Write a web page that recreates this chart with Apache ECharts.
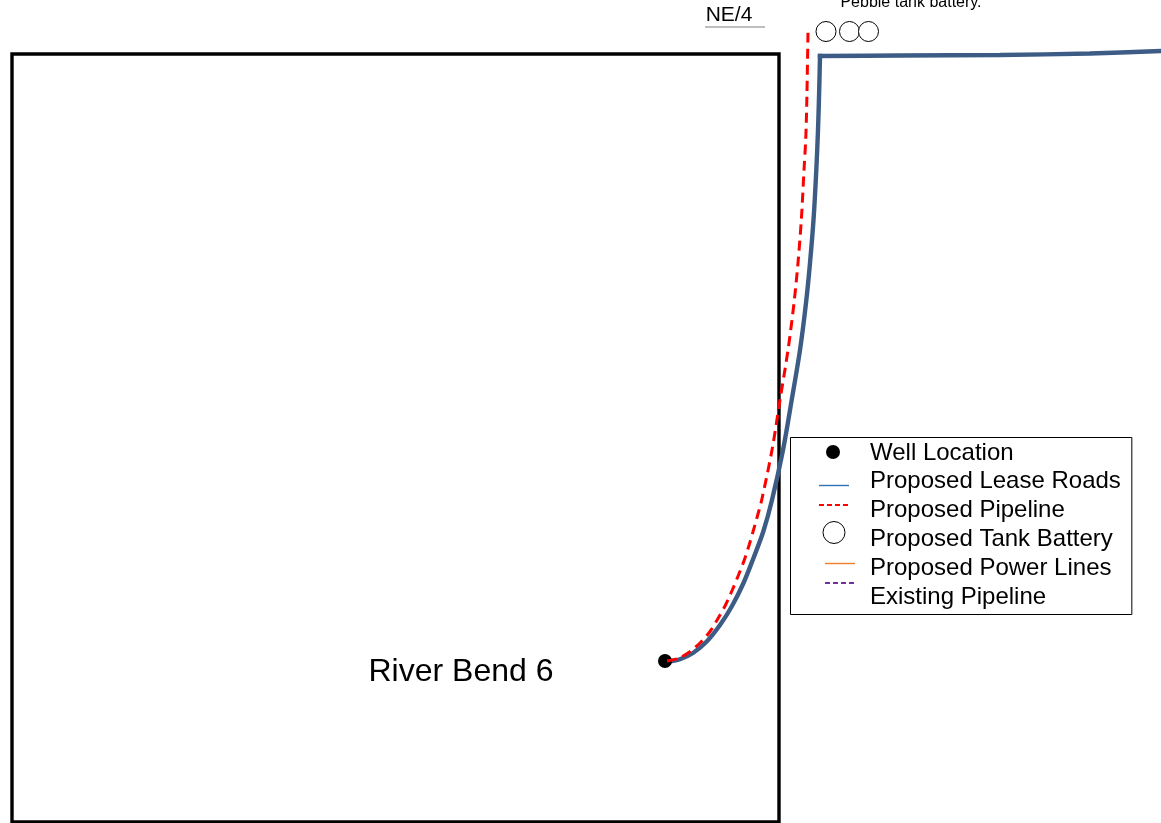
<!DOCTYPE html>
<html><head><meta charset="utf-8">
<style>html,body{margin:0;padding:0;background:#fff}#c{width:1161px;height:823px}</style>
<script src="https://cdn.jsdelivr.net/npm/echarts@6/dist/echarts.min.js"></script>
</head><body><div id="c"></div>
<script>
const FONT = '"Liberation Sans", Arial, sans-serif';
const boundary = [[12,54],[779,54],[779,822],[12,822],[12,54]];
const leaseRoadCurve = [[665,661.5],[672,661],[680,659.3],[693,653],[706.7,641.5],[720,625],[732,606],[743.5,583],[753.5,558],[763.3,531.5],[772,500],[783,450],[791.7,400],[800,350],[806,303],[810,263],[813.7,217],[816.3,170],[818,130],[819.2,90],[820,56]];
const leaseRoadStraight = [[820,56],[900,55.5],[1000,55],[1090,53.5],[1161,51]];
const proposedPipeline = [[667,661],[678,658.5],[688,653],[700,643],[710,631.5],[718,618.5],[725.5,605],[732.3,590],[738.5,575],[744.3,560],[749.3,544.5],[753.5,530],[757.7,515],[761.7,500],[772,450],[780,400],[788,350],[794,303],[798,263],[801.5,217],[804,170],[805.7,140],[806.7,106],[808,32]];
const wellLocation = [[665,661]];
const tankBattery = [[826,31.5],[849.5,31.5],[868.5,31.5]];
const annotations = [
  {p:[461,672], t:'River Bend 6', s:32},
  {p:[729,15], t:'NE/4', s:21},
  {p:[911,2.5], t:'Pebble tank battery.', s:16}
];
const underline = [[705,27],[765,27]];
const legendNames = ['Well Location','Proposed Lease Roads','Proposed Pipeline','Proposed Tank Battery','Proposed Power Lines','Existing Pipeline'];
const seg = (x1,x2,y,stroke,w,dash)=>({type:'line',shape:{x1,y1:y,x2,y2:y},style:{stroke,lineWidth:w,lineDash:dash||null},z:30});
const chart = echarts.init(document.getElementById('c'),null,{renderer:'canvas'});
chart.setOption({
  animation:false,
  backgroundColor:'#fff',
  grid:{left:0,right:0,top:0,bottom:0},
  xAxis:{type:'value',min:0,max:1161,show:false},
  yAxis:{type:'value',min:0,max:823,inverse:true,show:false},
  legend:{
    orient:'vertical',left:790.5,top:437.5,padding:[3.5,11,5.5,44.5],itemGap:4.8,itemWidth:30,itemHeight:14,
    backgroundColor:'#fff',borderColor:'#000',borderWidth:1,selectedMode:false,icon:'rect',
    itemStyle:{color:'transparent',borderWidth:0,opacity:0},lineStyle:{opacity:0},
    textStyle:{fontFamily:FONT,fontSize:24,color:'#000',lineHeight:24},
    data:legendNames
  },
  graphic:[
    {type:'circle',shape:{cx:833,cy:452,r:7},style:{fill:'#000'},z:30},
    seg(819,849,485.5,'#2e75b6',1.4),
    seg(819,849,505,'#ff0000',2,[5,3]),
    {type:'circle',shape:{cx:834,cy:532.5,r:11},style:{fill:'#fff',stroke:'#000',lineWidth:1},z:30},
    seg(825,855,563.5,'#ed7d31',1.4),
    seg(825,855,583,'#7030a0',2,[5,3])
  ],
  series:[
    {name:'Boundary',type:'line',data:boundary,showSymbol:false,silent:true,lineStyle:{color:'#000',width:3.4,cap:'square',join:'miter'},z:2},
    {name:legendNames[1],type:'line',data:leaseRoadCurve,smooth:0.3,showSymbol:false,lineStyle:{color:'#3c5c86',width:4.4,cap:'square'},itemStyle:{color:'#3c5c86'},z:3},
    {name:legendNames[1],type:'line',data:leaseRoadStraight,smooth:0.3,showSymbol:false,lineStyle:{color:'#3c5c86',width:4.4,cap:'square'},itemStyle:{color:'#3c5c86'},z:3},
    {name:legendNames[2],type:'line',data:proposedPipeline,smooth:0.3,showSymbol:false,lineStyle:{color:'#ff0000',width:3,type:[10,6]},itemStyle:{color:'#ff0000'},z:4},
    {name:legendNames[0],type:'scatter',data:wellLocation,symbolSize:14,itemStyle:{color:'#000',opacity:1},z:3.5},
    {name:legendNames[3],type:'scatter',data:tankBattery,symbolSize:20,itemStyle:{color:'#fff',borderColor:'#000',borderWidth:1,opacity:1},z:5},
    {name:legendNames[4],type:'line',data:[],lineStyle:{color:'#ed7d31',width:1}},
    {name:legendNames[5],type:'line',data:[],lineStyle:{color:'#7030a0',width:2,type:'dashed'}},
    {name:'Underline',type:'line',data:underline,showSymbol:false,silent:true,lineStyle:{color:'#7f7f7f',width:1.2},z:3},
    {name:'Annotations',type:'scatter',symbolSize:0,silent:true,clip:false,z:6,itemStyle:{opacity:1},
     data:annotations.map(a=>({value:a.p,label:{show:true,position:'inside',formatter:a.t,fontSize:a.s,fontFamily:FONT,color:'#000',textBorderWidth:0}}))}
  ]
});
</script></body></html>
